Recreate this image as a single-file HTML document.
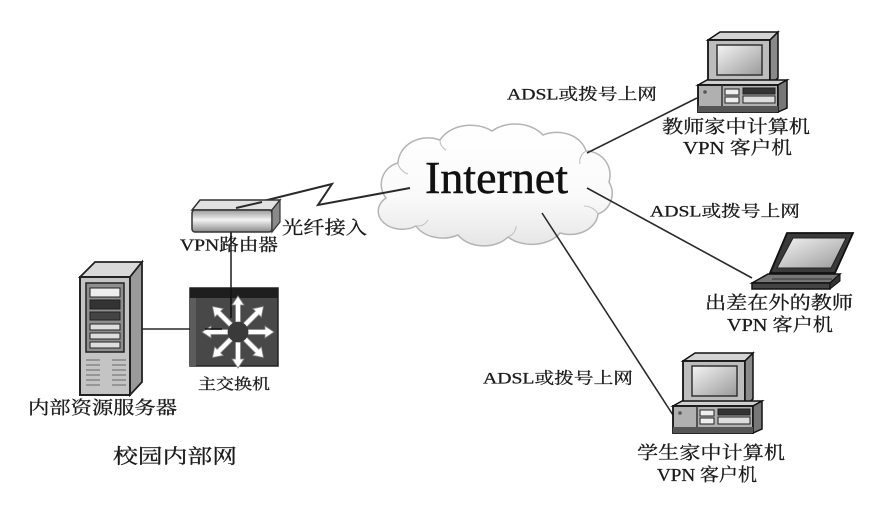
<!DOCTYPE html>
<html><head><meta charset="utf-8"><style>
html,body{margin:0;padding:0;background:#fff;}
svg{display:block;}
text{font-family:"Liberation Serif","Noto Serif CJK SC",serif;fill:#1c1c1c;stroke:#1c1c1c;stroke-width:0.3px;}
</style></head><body>
<svg width="887" height="508" viewBox="0 0 887 508" xmlns="http://www.w3.org/2000/svg">
<defs>
<linearGradient id="cg" x1="0" y1="0" x2="0" y2="1">
<stop offset="0" stop-color="#ffffff"/><stop offset="0.6" stop-color="#fafafa"/><stop offset="1" stop-color="#e6e6e6"/>
</linearGradient>
<linearGradient id="scr" x1="0" y1="0" x2="1" y2="1">
<stop offset="0" stop-color="#f4f4f4"/><stop offset="1" stop-color="#9a9a9a"/>
</linearGradient>
<linearGradient id="rf" x1="0" y1="0" x2="0" y2="1">
<stop offset="0" stop-color="#9a9a9a"/><stop offset="0.45" stop-color="#f2f2f2"/><stop offset="1" stop-color="#8a8a8a"/>
</linearGradient>
<g id="desk">
<polygon points="10,8 22,0 80,0 72,8" fill="#d4d4d4" stroke="#111" stroke-width="1.5"/>
<rect x="10" y="8" width="62" height="45" fill="#bdbdbd" stroke="#111" stroke-width="1.8"/>
<polygon points="72,8 80,0 80,46 72,53" fill="#8a8a8a" stroke="#111" stroke-width="1.5"/>
<rect x="19" y="13" width="45" height="30" fill="url(#scr)" stroke="#333" stroke-width="1.5"/>
<polygon points="0,53 9,48 89,48 80,53" fill="#cfcfcf" stroke="#111" stroke-width="1.5"/>
<rect x="0" y="53" width="80" height="27" fill="#b0b0b0" stroke="#111" stroke-width="1.8"/>
<polygon points="80,53 89,48 89,76 80,80" fill="#777" stroke="#111" stroke-width="1.5"/>
<rect x="0" y="74" width="80" height="6" fill="#555"/>
<circle cx="7" cy="60" r="1.8" fill="#555"/>
<line x1="24" y1="53" x2="24" y2="74" stroke="#333" stroke-width="1.5"/>
<rect x="27" y="57" width="14" height="6" fill="#eee" stroke="#222"/>
<rect x="27" y="65" width="14" height="6" fill="#eee" stroke="#222"/>
<rect x="45" y="56" width="32" height="6" fill="#333" stroke="#222"/>
<rect x="45" y="64" width="32" height="7" fill="#ddd" stroke="#222"/>
</g>
</defs>

<!-- cloud -->
<path d="M386,198 A22,22 0 0 1 398,163 A30,26 0 0 1 440,140 A34,26 0 0 1 492,131 A34,26 0 0 1 543,135 A30,24 0 0 1 586,151 A24,24 0 0 1 609,182 A22,22 0 0 1 598,214 A28,22 0 0 1 560,233 A32,22 0 0 1 508,237 A30,22 0 0 1 458,235 A30,22 0 0 1 416,226 A24,18 0 0 1 386,198 Z" fill="url(#cg)" stroke="#b4b4b4" stroke-width="1.5"/>
<path d="M398,163 A18,14 0 0 0 408,174 M440,140 A14,12 0 0 0 446,150 M586,151 A12,12 0 0 0 580,164 M598,214 A16,14 0 0 0 584,206 M508,237 A14,12 0 0 0 516,226 M416,226 A12,12 0 0 0 428,220" fill="none" stroke="#c4c4c4" stroke-width="1.1"/>

<text x="425" y="193" font-size="46" textLength="143" lengthAdjust="spacingAndGlyphs" style="fill:#111;stroke:#111;stroke-width:0.5px">Internet</text>

<!-- connectors -->
<g stroke="#2a2a2a" stroke-width="1.6" fill="none">
<line x1="587" y1="153" x2="697" y2="98"/>
<line x1="587" y1="188" x2="752" y2="278"/>
<line x1="542" y1="213" x2="673" y2="415"/>
<line x1="231" y1="232" x2="231" y2="318"/>
<line x1="135" y1="329" x2="222" y2="329"/>
<polyline points="235,208 332,184 318,205 410,188" stroke-width="2"/>
</g>

<!-- desktops -->
<use href="#desk" x="698" y="32"/>
<use href="#desk" x="673" y="353"/>

<!-- laptop -->
<polygon points="787,233 853,233 835,273 770,273" fill="#3a3a3a" stroke="#111" stroke-width="1.8"/>
<polygon points="793,238 846,238 831,268 777,268" fill="url(#scr)" stroke="#222"/>
<polygon points="752,283 768,274 840,274 830,283" fill="#777" stroke="#111" stroke-width="1.5"/>
<rect x="752" y="283" width="78" height="6" fill="#444" stroke="#111" stroke-width="1.5"/>
<polygon points="830,283 840,274 840,281 830,289" fill="#333" stroke="#111"/>
<line x1="772" y1="279" x2="832" y2="279" stroke="#333"/>

<!-- server -->
<polygon points="80,277 95,262 142,262 130,277" fill="#d9d9d9" stroke="#222" stroke-width="1.8"/>
<polygon points="130,277 142,262 142,382 130,395" fill="#9a9a9a" stroke="#222" stroke-width="1.8"/>
<rect x="80" y="277" width="50" height="118" fill="#c4c4c4" stroke="#222" stroke-width="2"/>
<rect x="86" y="283" width="38" height="69" fill="#8e8e8e" stroke="#222" stroke-width="1.5"/>
<rect x="90" y="288" width="30" height="9" fill="#eee" stroke="#222"/>
<rect x="90" y="300" width="30" height="9" fill="#333" stroke="#222"/>
<rect x="90" y="312" width="30" height="8" fill="#444" stroke="#222"/>
<rect x="90" y="324" width="30" height="6" fill="#ddd" stroke="#222"/>
<rect x="90" y="333" width="30" height="6" fill="#ddd" stroke="#222"/>
<rect x="90" y="342" width="30" height="6" fill="#ddd" stroke="#222"/>
<g stroke="#777" stroke-width="1.2">
<line x1="86" y1="360" x2="100" y2="360"/><line x1="112" y1="360" x2="126" y2="360"/>
<line x1="86" y1="365" x2="100" y2="365"/><line x1="112" y1="365" x2="126" y2="365"/>
<line x1="86" y1="370" x2="100" y2="370"/><line x1="112" y1="370" x2="126" y2="370"/>
<line x1="86" y1="375" x2="100" y2="375"/><line x1="112" y1="375" x2="126" y2="375"/>
<line x1="86" y1="380" x2="100" y2="380"/><line x1="112" y1="380" x2="126" y2="380"/>
<line x1="86" y1="385" x2="100" y2="385"/><line x1="112" y1="385" x2="126" y2="385"/>
</g>

<!-- router -->
<polygon points="200,200 280,200 272,210 192,210" fill="#e2e2e2" stroke="#333" stroke-width="1.5"/>
<rect x="192" y="210" width="80" height="22" rx="3" fill="url(#rf)" stroke="#333" stroke-width="1.5"/>
<polygon points="272,210 280,200 280,222 272,232" fill="#8a8a8a" stroke="#333" stroke-width="1.2"/>
<line x1="231" y1="232" x2="231" y2="240" stroke="#2a2a2a" stroke-width="1.6"/>
<line x1="236" y1="208" x2="262" y2="202" stroke="#2a2a2a" stroke-width="2"/>

<!-- switch -->
<rect x="190" y="288" width="88" height="78" fill="#484848" stroke="#222" stroke-width="1.5"/>
<rect x="190" y="288" width="88" height="10" fill="#1e1e1e"/>
<rect x="190" y="298" width="6" height="68" fill="#5c5c5c"/>
<line x1="231" y1="288" x2="231" y2="318" stroke="#111" stroke-width="1.6"/>
<g transform="translate(238,332)" fill="#fff" stroke="#888" stroke-width="0.8">
<g id="arr"><polygon points="9,-2.5 27,-2.5 27,-6 36,0 27,6 27,2.5 9,2.5"/></g>
<use href="#arr" transform="rotate(45)"/>
<use href="#arr" transform="rotate(90)"/>
<use href="#arr" transform="rotate(135)"/>
<use href="#arr" transform="rotate(180)"/>
<use href="#arr" transform="rotate(225)"/>
<use href="#arr" transform="rotate(270)"/>
<use href="#arr" transform="rotate(315)"/>
<circle cx="0" cy="0" r="10" fill="#3a3a3a" stroke="#3a3a3a"/>
</g>
<line x1="205" y1="329" x2="222" y2="329" stroke="#111" stroke-width="1.6"/>

<!-- labels -->
<g dominant-baseline="central">
<text x="507" y="95" font-size="16" textLength="150" lengthAdjust="spacingAndGlyphs">ADSL或拨号上网</text>
<text x="662" y="127" font-size="18" textLength="148" lengthAdjust="spacingAndGlyphs">教师家中计算机</text>
<text x="683" y="148" font-size="18" textLength="109" lengthAdjust="spacingAndGlyphs">VPN 客户机</text>
<text x="650" y="212" font-size="16" textLength="150" lengthAdjust="spacingAndGlyphs">ADSL或拨号上网</text>
<text x="705" y="303" font-size="18" textLength="148" lengthAdjust="spacingAndGlyphs">出差在外的教师</text>
<text x="727" y="325" font-size="18" textLength="106" lengthAdjust="spacingAndGlyphs">VPN 客户机</text>
<text x="483" y="379" font-size="16" textLength="150" lengthAdjust="spacingAndGlyphs">ADSL或拨号上网</text>
<text x="637" y="453" font-size="18" textLength="148" lengthAdjust="spacingAndGlyphs">学生家中计算机</text>
<text x="657" y="475" font-size="18" textLength="100" lengthAdjust="spacingAndGlyphs">VPN 客户机</text>
<text x="180" y="245" font-size="17" textLength="98" lengthAdjust="spacingAndGlyphs">VPN路由器</text>
<text x="282" y="228" font-size="18" textLength="85" lengthAdjust="spacingAndGlyphs">光纤接入</text>
<text x="198" y="385" font-size="15" textLength="72" lengthAdjust="spacingAndGlyphs">主交换机</text>
<text x="28" y="408" font-size="18" textLength="149" lengthAdjust="spacingAndGlyphs">内部资源服务器</text>
<text x="113" y="457" font-size="20" textLength="124" lengthAdjust="spacingAndGlyphs">校园内部网</text>
</g>
</svg>
</body></html>
